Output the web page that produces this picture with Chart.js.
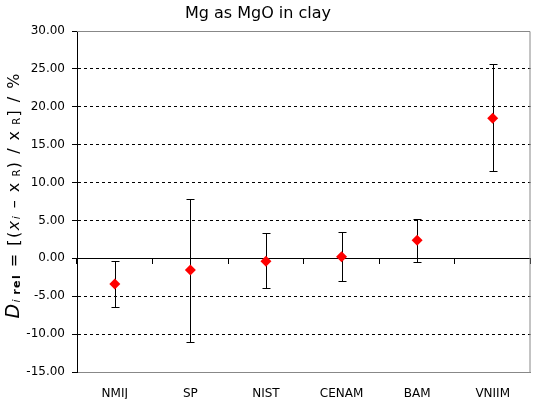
<!DOCTYPE html>
<html>
<head>
<meta charset="utf-8">
<script src="https://cdn.jsdelivr.net/npm/chart.js@4.4.0/dist/chart.umd.min.js"></script>
<style>
  html, body { margin: 0; padding: 0; background: #fff; }
  #wrap { width: 536px; height: 399px; }
</style>
</head>
<body>
<div id="wrap"><canvas id="chart"></canvas></div>
<script>
// values
const labs = ['NMIJ', 'SP', 'NIST', 'CENAM', 'BAM', 'VNIIM'];
const dRel = [-3.38, -1.55, -0.4, 0.22, 2.38, 18.5];
const errHigh = [-0.4, 7.85, 3.35, 3.52, 5.22, 25.6];
const errLow = [-6.43, -11.07, -3.92, -3.0, -0.49, 11.5];
const yTicks = { min: -15, max: 30, step: 5 };

const FONT = 'DejaVu Sans';

// whiskers are drawn under the diamonds
const errorBars = {
  id: 'errorBars',
  beforeDatasetsDraw(chart) {
    const { ctx, scales: { x, y } } = chart;
    ctx.save();
    ctx.strokeStyle = '#000';
    ctx.lineWidth = 1;
    labs.forEach((lab, i) => {
      const px = Math.round(x.getPixelForValue(i)) + 0.5;
      const top = Math.round(y.getPixelForValue(errHigh[i])) + 0.5;
      const bot = Math.round(y.getPixelForValue(errLow[i])) + 0.5;
      ctx.beginPath();
      ctx.moveTo(px, top); ctx.lineTo(px, bot);
      ctx.moveTo(px - 4, top); ctx.lineTo(px + 4, top);
      ctx.moveTo(px - 4, bot); ctx.lineTo(px + 4, bot);
      ctx.stroke();
    });
    // grey frame on top and right
    const a = chart.chartArea;
    ctx.strokeStyle = '#888';
    ctx.beginPath();
    ctx.moveTo(a.left, a.top + 0.5);
    ctx.lineTo(a.right - 0.5, a.top + 0.5);
    ctx.lineTo(a.right - 0.5, a.bottom);
    ctx.stroke();
    ctx.restore();
  }
};

// title and the rotated y label with subscripts
const labels = {
  id: 'labels',
  afterDraw(chart) {
    const { ctx } = chart;
    ctx.save();
    ctx.fillStyle = '#000';
    ctx.font = '16px ' + FONT;
    ctx.textAlign = 'center';
    ctx.textBaseline = 'middle';
    ctx.fillText('Mg as MgO in clay', 258, 14);

    const parts = [
      ['D', 'italic 19px', 0],
      ['i', 'italic 11px', 1],
      [' ', '5px', 0],
      ['rel', 'bold 11px', 1],
      [' = [(', '16px', 0],
      ['x', 'italic 16px', 0],
      ['i', 'italic 11px', 1],
      [' \u2013 ', '16px', 0],
      ['x', '16px', 0],
      [' R', '10px', 1],
      [') / ', '16px', 0],
      ['x', '16px', 0],
      [' R', '10px', 1],
      ['] / %', '16px', 0]
    ];
    const target = 245;
    let total = 0, n = 0;
    parts.forEach(p => {
      ctx.font = p[1] + ' ' + FONT;
      p.push(ctx.measureText(p[0]).width);
      total += p[3];
      n += p[0].length;
    });
    const gap = Math.max(0, (target - total) / (n - 1));
    ctx.translate(19, 196);
    ctx.rotate(-Math.PI / 2);
    ctx.textAlign = 'left';
    ctx.textBaseline = 'alphabetic';
    let cx = -target / 2;
    parts.forEach(p => {
      ctx.font = p[1] + ' ' + FONT;
      for (const ch of p[0]) {
        ctx.fillText(ch, cx, p[2]);
        cx += ctx.measureText(ch).width + gap;
      }
    });
    ctx.restore();
  }
};

const ctx = document.getElementById('chart').getContext('2d');
new Chart(ctx, {
  type: 'line',
  data: {
    labels: labs,
    datasets: [{
      data: dRel,
      showLine: false,
      pointStyle: 'rectRot',
      pointRadius: 5.5,
      pointHoverRadius: 5.5,
      pointBackgroundColor: '#ff0000',
      pointBorderColor: '#ff0000',
      pointBorderWidth: 0
    }]
  },
  options: {
    responsive: true,
    maintainAspectRatio: false,
    animation: false,
    events: [],
    layout: { padding: { top: 31, right: 1, left: 0, bottom: 0 } },
    plugins: { legend: { display: false }, title: { display: false }, tooltip: { enabled: false } },
    scales: {
      x: {
        type: 'category',
        offset: true,
        grid: { display: false, tickLength: 0 },
        border: { color: '#888', width: 1 },
        ticks: { color: '#000', font: { family: FONT, size: 12 }, padding: 15 },
        afterFit(s) { s.height = 27; }
      },
      x0: {
        type: 'category',
        position: { y: 0 },
        offset: true,
        grid: { offset: true, drawOnChartArea: false, drawTicks: true, tickLength: 5, color: '#000' },
        border: { color: '#000', width: 1 },
        ticks: { display: false }
      },
      y: {
        min: yTicks.min,
        max: yTicks.max,
        grid: {
          color: c => (c.tick.value === yTicks.min || c.tick.value === yTicks.max) ? 'rgba(0,0,0,0)' : '#000',
          tickColor: '#000',
          tickLength: 5,
          tickBorderDash: []
        },
        border: { color: '#000', width: 1, dash: [3, 3] },
        ticks: {
          stepSize: yTicks.step,
          color: '#000',
          padding: 7,
          font: { family: FONT, size: 12 },
          callback: v => v.toFixed(2)
        },
        afterFit(s) { s.width = 77; }
      }
    }
  },
  plugins: [errorBars, labels]
});
</script>
</body>
</html>
